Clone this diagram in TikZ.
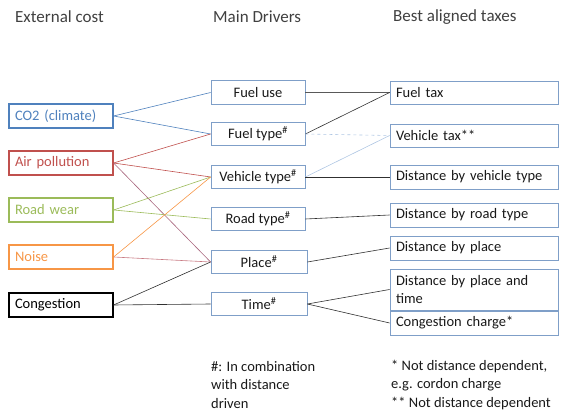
\documentclass[tikz,border=0pt]{standalone}
\usepackage{fontspec}
\setmainfont{Carlito}
\definecolor{cblue}{HTML}{4F81BD}
\definecolor{cred}{HTML}{C0504D}
\definecolor{cgreen}{HTML}{9BBB59}
\definecolor{corange}{HTML}{F79646}
\definecolor{boxline}{HTML}{7F9FC8}
\definecolor{lightcon}{HTML}{AFC6E3}
\definecolor{purpcon}{HTML}{A8667E}
\definecolor{mauvecon}{HTML}{C87A82}
\definecolor{headtxt}{HTML}{404040}
\definecolor{conline}{HTML}{303030}
\begin{document}
\begin{tikzpicture}[x=1pt,y=-1pt,
  every node/.style={font=\fontsize{14.5}{17}\selectfont},
  head/.style={anchor=west,inner sep=0pt,text=headtxt,font=\fontsize{17}{20}\selectfont},
  lbox/.style={draw,line width=1.2pt,minimum width=104pt,minimum height=24pt,inner xsep=6pt,inner ysep=0pt,text width=92pt,align=left},
  mbox/.style={draw=boxline,line width=0.8pt,minimum width=94pt,minimum height=23.5pt,inner sep=0pt,align=center,text=black!90},
  rbox/.style={draw=boxline,line width=0.8pt,minimum width=168pt,minimum height=24pt,inner xsep=6pt,inner ysep=0pt,text width=156pt,align=left,text=black!90},
  con/.style={line width=0.6pt},
  note/.style={anchor=north west,inner sep=0pt,align=left,text=black!90,font=\fontsize{14.5}{18.5}\selectfont}]
\useasboundingbox (0,0) rectangle (567,419);
% headers
\node[head] (h1) at (15,17) {External cost};
\node[head] (h2) at (213,17) {Main Drivers};
\node[head] (h3) at (393,17) {Best aligned taxes};
% left boxes
\node[lbox,draw=cblue,text=cblue] (co2) at (61,116) {CO2 (climate)};
\node[lbox,draw=cred,text=cred] (air) at (61,163) {Air pollution};
\node[lbox,draw=cgreen,text=cgreen] (road) at (61,210) {Road wear};
\node[lbox,draw=corange,text=corange] (noise) at (61,257) {Noise};
\node[lbox,draw=black,text=black] (cong) at (61,305) {Congestion};
% middle boxes
\node[mbox] (fuse) at (258,92.5) {Fuel use};
\node[mbox] (ftype) at (258,134) {Fuel type\textsuperscript{\#}};
\node[mbox] (vtype) at (258,177) {Vehicle type\textsuperscript{\#}};
\node[mbox] (rtype) at (258,219) {Road type\textsuperscript{\#}};
\node[mbox,minimum width=96pt] (place) at (259,262) {Place\textsuperscript{\#}};
\node[mbox,minimum width=96pt] (time) at (259,304) {Time\textsuperscript{\#}};
% right boxes
\node[rbox,minimum height=23pt] (ftax) at (474,92.5) {Fuel tax};
\node[rbox,minimum height=23pt] (vtax) at (474,135.5) {Vehicle tax**};
\node[rbox] (dveh) at (474,177) {Distance by vehicle type};
\node[rbox] (droad) at (474,215) {Distance by road type};
\node[rbox] (dplace) at (474,248) {Distance by place};
\node[rbox,minimum height=41pt,font=\fontsize{14.5}{18}\selectfont] (dpt) at (474,289.5) {Distance by place and\\time};
\node[rbox] (cch) at (474,323) {Congestion charge*};
% left to middle connectors
\draw[con,cblue] (co2.east) -- (fuse.west);
\draw[con,cblue] (co2.east) -- (ftype.west);
\draw[con,cred] (air.east) -- (ftype.west);
\draw[con,cred] (air.east) -- (vtype.west);
\draw[con,purpcon] (air.east) -- (place.west);
\draw[con,cgreen] (road.east) -- (vtype.west);
\draw[con,cgreen] (road.east) -- (rtype.west);
\draw[con,corange] (noise.east) -- (vtype.west);
\draw[con,mauvecon] (noise.east) -- (place.west);
\draw[con,conline] (cong.east) -- (place.west);
\draw[con,conline] (cong.east) -- (time.west);
% middle to right connectors
\draw[line width=1.1pt,black!65] (fuse.east) -- (ftax.west);
\draw[con,conline] (ftype.east) -- (ftax.west);
\draw[con,lightcon,dashed] (ftype.east) -- (vtax.west);
\draw[con,lightcon] (vtype.east) -- (vtax.west);
\draw[con,conline] (vtype.east) -- (dveh.west);
\draw[con,conline] (rtype.east) -- (droad.west);
\draw[con,conline] (place.east) -- (dplace.west);
\draw[con,conline] (time.east) -- (dpt.west);
\draw[con,conline] (time.east) -- (cch.west);
% notes
\node[note] (n1) at (211,361) {\#: In combination\\with distance\\driven};
\node[note] (n2) at (391,360) {* Not distance dependent,\\e.g. cordon charge\\** Not distance dependent};
\end{tikzpicture}
\end{document}
